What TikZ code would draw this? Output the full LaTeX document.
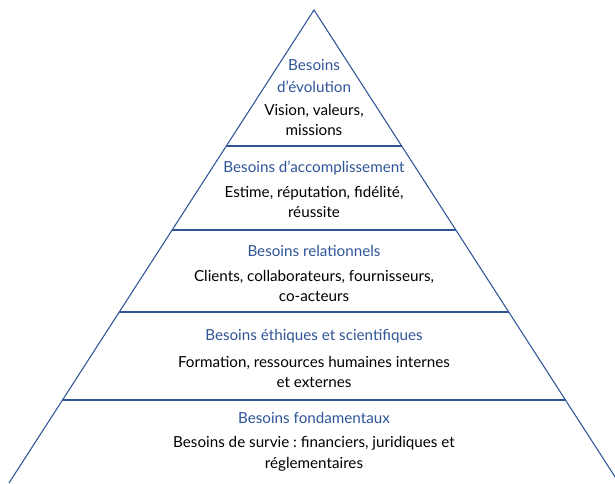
\documentclass[tikz,border=0pt]{standalone}
\usepackage{fontspec}
\setmainfont{Lato}
\usetikzlibrary{%
    positioning,%
    calc%
}
\definecolor{pyrblue}{HTML}{2F5597}
\frenchspacing

\begin{document}
\begin{tikzpicture}[x=0.75pt, y=-0.75pt,
    level title/.style = {text = pyrblue, font = \fontsize{11.4}{12}\selectfont, inner sep = 0pt},
    level body/.style = {text = black, font = \fontsize{11.4}{15.5}\selectfont, align = center, inner sep = 0pt}]
    \useasboundingbox (0,0) rectangle (615,483);
    % Define pyramid vertices
    \coordinate (apex) at (314,10);
    \coordinate (bl) at (9,483);
    \coordinate (br) at (619,483);

    % Draw the outline
    \draw[pyrblue, line width = 0.8pt] (bl) -- (apex) -- (br);

    % Draw the separating lines
    \foreach \h/\n in {146/1, 230/2, 312/3, 400/4} {
        \coordinate (L\n) at ($(apex)!{(\h-10)/473}!(bl)$);
        \coordinate (R\n) at ($(apex)!{(\h-10)/473}!(br)$);
        \draw[pyrblue, line width = 0.8pt] (L\n) -- (R\n);
    }

    % Level texts
    \node[level title, align = center, font = \fontsize{11.4}{16.5}\selectfont] (t1) at (314,76) {Besoins\\d’évolution};
    \node[level body] (b1) at (314,120) {Vision, valeurs,\\missions};

    \node[level title] (t2) at (314,168) {Besoins d’accomplissement};
    \node[level body] (b2) at (314,202) {Estime, réputation, fidélité,\\réussite};

    \node[level title] (t3) at (314,251) {Besoins relationnels};
    \node[level body] (b3) at (314,286) {Clients, collaborateurs, fournisseurs,\\co-acteurs};

    \node[level title] (t4) at (314,336) {Besoins éthiques et scientifiques};
    \node[level body] (b4) at (314,372) {Formation, ressources humaines internes\\et externes};

    \node[level title] (t5) at (314,418) {Besoins fondamentaux};
    \node[level body] (b5) at (314,454) {Besoins de survie : financiers, juridiques et\\réglementaires};
\end{tikzpicture}
\end{document}
